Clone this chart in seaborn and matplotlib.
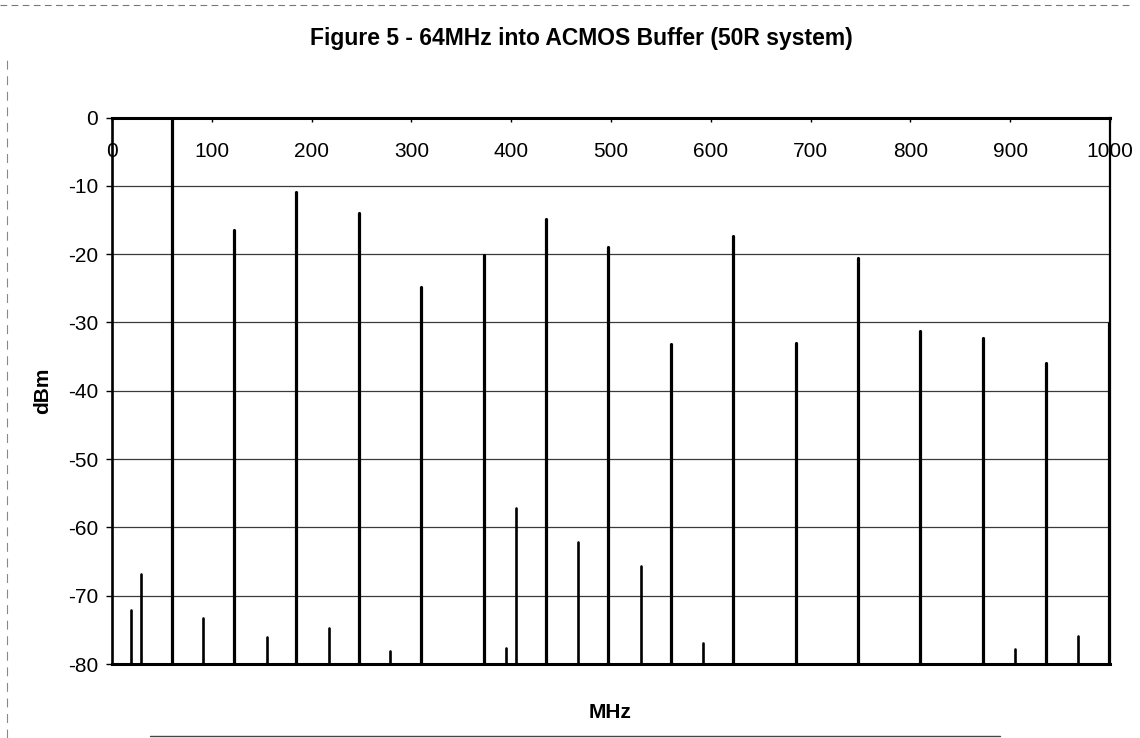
## Spectrum plot - 64MHz into ACMOS buffer
# stems drawn with seaborn lineplot (one unit per stem)

import pandas as pd
import matplotlib
matplotlib.use("Agg")
import matplotlib.pyplot as plt
from matplotlib.lines import Line2D
import seaborn as sns

# harmonic lines (MHz, dBm)
harm_mhz = [60, 122, 184, 247, 310, 373, 435, 497, 560, 622, 685, 747, 810, 873, 936, 999]
harm_dbm = [0, -16.5, -10.9, -14.0, -24.8, -20.1, -14.8, -19.0, -33.2, -17.4, -33.0, -20.6, -31.2, -32.3, -36.0, -30.1]

# small spurs (MHz, dBm)
spur_mhz = [19, 29, 91, 155, 217, 279, 395, 405, 467, 530, 592, 905, 968]
spur_dbm = [-72.1, -66.8, -73.2, -76.0, -74.8, -78.1, -77.7, -57.2, -62.2, -65.6, -76.9, -77.8, -75.9]

x_ticks = list(range(0, 1001, 100))
y_ticks = list(range(-80, 1, 10))
floor_dbm = -80

title = "Figure 5 - 64MHz into ACMOS Buffer (50R system)"


def stems(freqs, levels, name):
    # each stem is a unit with two points: floor and level
    rows = []
    for i, (f, v) in enumerate(zip(freqs, levels)):
        rows.append({"unit": f"{name}{i}", "MHz": f, "dBm": floor_dbm})
        rows.append({"unit": f"{name}{i}", "MHz": f, "dBm": v})
    return pd.DataFrame(rows)


sns.set_style("white")
plt.rcParams['font.family'] = ['Liberation Sans', 'DejaVu Sans']
plt.rcParams['axes.unicode_minus'] = False
plt.rcParams['text.color'] = 'black'
plt.rcParams['axes.labelcolor'] = 'black'

fig = plt.figure(figsize=(11.4, 7.38), dpi=100)
ax = fig.add_axes([112 / 1140, 1 - 664 / 738, (1110 - 112) / 1140, (664 - 117.5) / 738])

harm_df = stems(harm_mhz, harm_dbm, "h")
spur_df = stems(spur_mhz, spur_dbm, "s")

sns.lineplot(data=harm_df, x="MHz", y="dBm", units="unit", estimator=None,
             sort=False, color="black", linewidth=2.3, legend=False, ax=ax, zorder=3)
sns.lineplot(data=spur_df, x="MHz", y="dBm", units="unit", estimator=None,
             sort=False, color="black", linewidth=1.9, legend=False, ax=ax, zorder=3)

ax.set_xlim(0, 1000)
ax.set_ylim(-80, 0)
ax.set_xticks(x_ticks)
ax.set_yticks(y_ticks)

ax.yaxis.grid(True, color="#3a3a3a", linewidth=0.9)
ax.xaxis.grid(False)
ax.set_axisbelow(True)

ax.tick_params(axis="x", top=True, bottom=False, labeltop=True, labelbottom=False,
               direction="in", length=3, width=1, pad=-31, labelsize=15, colors="black")
ax.tick_params(axis="y", left=True, direction="out", length=4, width=1, pad=6,
               labelsize=15, colors="black")

for side, lw in [("top", 2.2), ("bottom", 2.2), ("left", 1.9), ("right", 1.6)]:
    ax.spines[side].set_visible(True)
    ax.spines[side].set_color("black")
    ax.spines[side].set_linewidth(lw)

ax.set_xlabel("MHz", fontsize=15, fontweight="bold")
ax.set_ylabel("dBm", fontsize=15, fontweight="bold")
ax.xaxis.set_label_coords(0.499, -0.088)
ax.xaxis.label.set_va("center")
ax.yaxis.set_label_coords(-0.070, 0.50)
ax.yaxis.label.set_va("center")

fig.suptitle(title, x=0.51, y=1 - 38 / 738, va="center", fontsize=16.5,
             fontweight="bold", color="black")

# faint chart-area border from the scanned page
fig.add_artist(Line2D([0.0, 0.99], [1 - 5 / 738, 1 - 5 / 738], transform=fig.transFigure,
                      color="#777777", linewidth=0.8, linestyle=(0, (6, 4))))
fig.add_artist(Line2D([7 / 1140, 7 / 1140], [0.0, 1 - 60 / 738], transform=fig.transFigure,
                      color="#888888", linewidth=0.8, linestyle=(0, (8, 6))))
fig.add_artist(Line2D([150 / 1140, 1000 / 1140], [1 - 736 / 738, 1 - 736 / 738],
                      transform=fig.transFigure, color="#444444", linewidth=1.0))

fig.savefig("out.png", dpi=100)
